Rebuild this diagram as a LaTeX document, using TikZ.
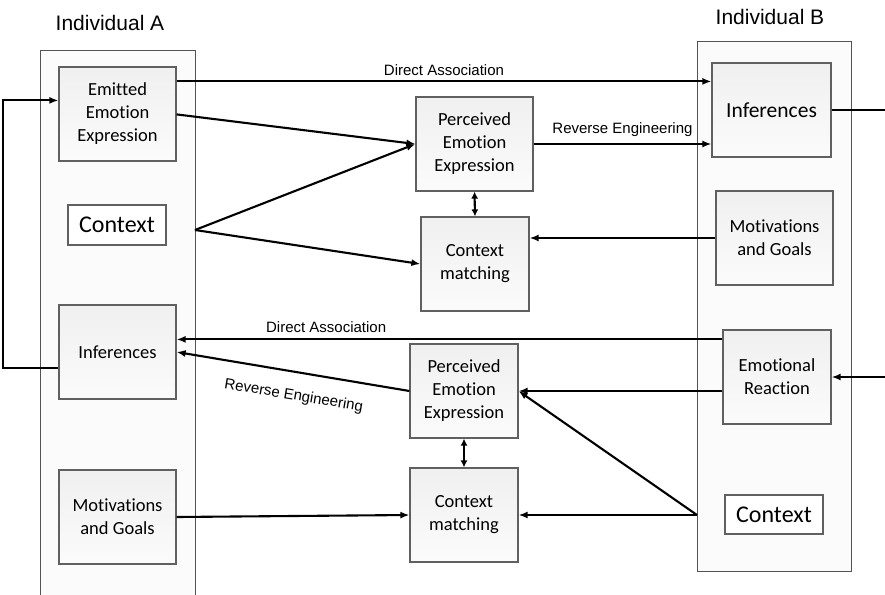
\documentclass[tikz,border=0pt]{standalone}
\usepackage{fontspec}
\setmainfont{Carlito}[Ligatures=NoCommon]
\newfontfamily\arialfont{Liberation Sans}
\usetikzlibrary{arrows.meta}

\tikzset{
  panel/.style={draw=gray!65!black, line width=0.9pt, fill=gray!3, inner sep=0pt},
  box/.style={draw=gray!75!black, line width=1.2pt, top color=gray!12, bottom color=gray!3,
    minimum width=117pt, minimum height=94pt, align=center, inner sep=0pt,
    font=\fontsize{18.5}{23}\selectfont},
  ctxbox/.style={draw=gray!75!black, line width=1.2pt, fill=white, minimum width=98pt,
    minimum height=40pt, inner sep=0pt, font=\fontsize{24}{28}\selectfont},
  arr/.style={line width=2.1pt, -{Latex[length=9pt,width=7pt]}},
  lbl/.style={font=\arialfont\fontsize{15}{18}\selectfont, inner sep=1pt},
}

\begin{document}
\begin{tikzpicture}[x=1pt,y=-1pt]
\clip (0,0) rectangle (885,594);

% the two individuals
\node[panel, minimum width=155pt, minimum height=560pt] (panelA) at (117.5,330) {};
\node[panel, minimum width=154pt, minimum height=530pt] (panelB) at (774,306) {};
\node[font=\arialfont\fontsize{21}{25}\selectfont] (nameA) at (110,23) {Individual A};
\node[font=\arialfont\fontsize{21}{25}\selectfont] (nameB) at (770,17) {Individual B};

\node[box] (emitA) at (117.5,114) {Emitted\\Emotion\\Expression};
\node[ctxbox] (ctxA) at (117,225) {Context};
\node[box] (infA) at (117.5,352) {Inferences};
\node[box] (motA) at (117.5,517) {Motivations\\and Goals};

\node[box, minimum width=119pt, font=\fontsize{21.5}{25}\selectfont] (infB) at (771.5,110) {Inferences};
\node[box] (motB) at (774.5,238) {Motivations\\and Goals};
\node[box, minimum width=108pt] (reactB) at (777,377) {Emotional\\Reaction};
\node[ctxbox, minimum height=39pt] (ctxB) at (774,514.5) {Context};

% middle column
\node[box] (percT) at (474.5,144) {Perceived\\Emotion\\Expression};
\node[box, minimum width=108pt] (matchT) at (475,264) {Context\\matching};
\node[box, minimum width=108pt] (percB) at (464,391) {Perceived\\Emotion\\Expression};
\node[box, minimum width=108pt] (matchB) at (464,515) {Context\\matching};

\coordinate (ctxAout) at (195,230);
\coordinate (ctxBout) at (697,515);

% A to B
\draw[arr] ([yshift=-15pt]emitA.north east) coordinate (daT) -- (daT -| infB.west)
  node[lbl, midway, above=4pt] {Direct Association};
\draw[arr] ([yshift=-48pt]emitA.north east) -- (percT.west);
\draw[arr] (ctxAout) -- (percT.west);
\draw[arr] (ctxAout) -- (matchT.west);
\draw[arr] (percT.east) -- (percT.east -| infB.west)
  node[lbl, midway, above=5pt] {Reverse Engineering};
\draw[arr] (motB.west) -- (motB.west -| matchT.east);
\draw[line width=2.1pt] (infB.east) -- ++(60pt,0);

% B to A
\draw[arr] (reactB.east) ++(60pt,0) -- (reactB.east);
\draw[arr] ([yshift=-10pt]reactB.north west) coordinate (daB) -- (daB -| infA.east)
  node[lbl, pos=0.726, above=5pt] {Direct Association};
\draw[arr] ([yshift=-14pt]reactB.west) coordinate (reB) -- (reB -| percB.east);
\draw[arr] (percB.west) -- (infA.east)
  node[lbl, pos=0.48, sloped, below=15pt] {Reverse Engineering};
\draw[arr] (ctxBout) -- (percB.east);
\draw[arr] (ctxBout) -- (ctxBout -| matchB.east);
\draw[arr] (motA.east) -- (matchB.west);

\foreach \up/\down in {percT/matchT, percB/matchB}
  \draw[line width=2.1pt, {Latex[length=7pt,width=7pt]}-{Latex[length=7pt,width=7pt]}] (\up.south) -- (\down.north);

% feedback loop
\draw[arr] ([yshift=-16pt]infA.west) -- ++(-55pt,0) |- ([yshift=-34pt]emitA.north west);

\end{tikzpicture}
\end{document}
